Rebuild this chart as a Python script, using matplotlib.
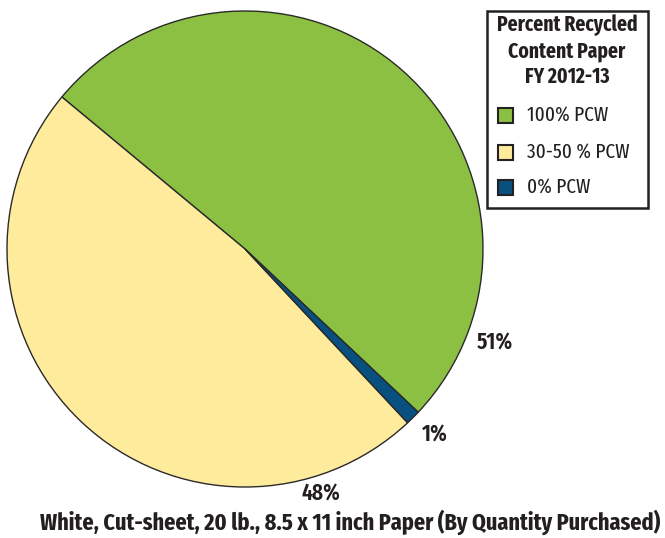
import matplotlib
matplotlib.use("Agg")
import matplotlib.pyplot as plt
from matplotlib.patches import Rectangle

plt.rcParams["font.family"] = ["Fira Sans Extra Condensed", "PT Sans Narrow", "DejaVu Sans"]

labels = ["100% PCW", "30-50 % PCW", "0% PCW"]
values = [51, 48, 1]
pct_text = ["51%", "48%", "1%"]
colors = ["#8cc043", "#ffeb9c", "#08507f"]
legend_title = ["Percent Recycled", "Content Paper", "FY 2012-13"]
caption = "White, Cut-sheet, 20 lb., 8.5 x 11 inch Paper (By Quantity Purchased)"

INK = "#231f20"
W, H = 665, 538
fig = plt.figure(figsize=(W / 100, H / 100), dpi=100, facecolor="white")

# pie axes, placed in pixels
cx, cy, r = 245, 249, 238
ax = fig.add_axes([(cx - r) / W, (H - cy - r) / H, 2 * r / W, 2 * r / H])
ax.pie(values, colors=colors, startangle=-43.3, counterclock=True,
       wedgeprops=dict(edgecolor="#2a2a2a", linewidth=1.0))
ax.set_xlim(-1, 1)
ax.set_ylim(-1, 1)
ax.set_axis_off()

# overlay in pixel coordinates for labels / legend / caption
ov = fig.add_axes([0, 0, 1, 1], zorder=5)
ov.set_xlim(0, W)
ov.set_ylim(H, 0)
ov.set_axis_off()
ov.patch.set_alpha(0)

renderer = fig.canvas.get_renderer()


def fit(t, width):
    bb = t.get_window_extent(renderer)
    t.set_fontsize(t.get_fontsize() * width / bb.width)
    return t.get_fontsize()


label_xy = [(495, 343), (321, 494), (435, 435)]
fs_pct = None
for txt, (x, y) in zip(pct_text, label_xy):
    t = ov.text(x, y, txt, ha="center", va="center", fontsize=15,
                fontweight="semibold", color=INK)
    if fs_pct is None:
        fs_pct = fit(t, 36)
    else:
        t.set_fontsize(fs_pct)

# legend box
ov.add_patch(Rectangle((487, 11), 161, 197, facecolor="white",
                       edgecolor="#222222", linewidth=1.8))
title_y = [25, 51, 77]
fs_title = None
for line, y in zip(legend_title, title_y):
    t = ov.text(567, y, line, ha="center", va="center", fontsize=17,
                fontweight="bold", color=INK)
    if fs_title is None:
        fs_title = fit(t, 140)
    else:
        t.set_fontsize(fs_title)

entry_y = [115, 152, 187]
fs_entry = None
for lab, c, y in zip(labels, colors, entry_y):
    ov.add_patch(Rectangle((498, y - 7.5), 15, 15, facecolor=c,
                           edgecolor="#222222", linewidth=1.5))
    t = ov.text(527, y, lab, ha="left", va="center", fontsize=16, color=INK)
    if fs_entry is None:
        fs_entry = fit(t, 81)
    else:
        t.set_fontsize(fs_entry)

cap = ov.text(350, 522, caption, ha="center", va="center", fontsize=18,
              fontweight="bold", color=INK)
fit(cap, 620)

fig.savefig("out.png", dpi=100, facecolor="white")
